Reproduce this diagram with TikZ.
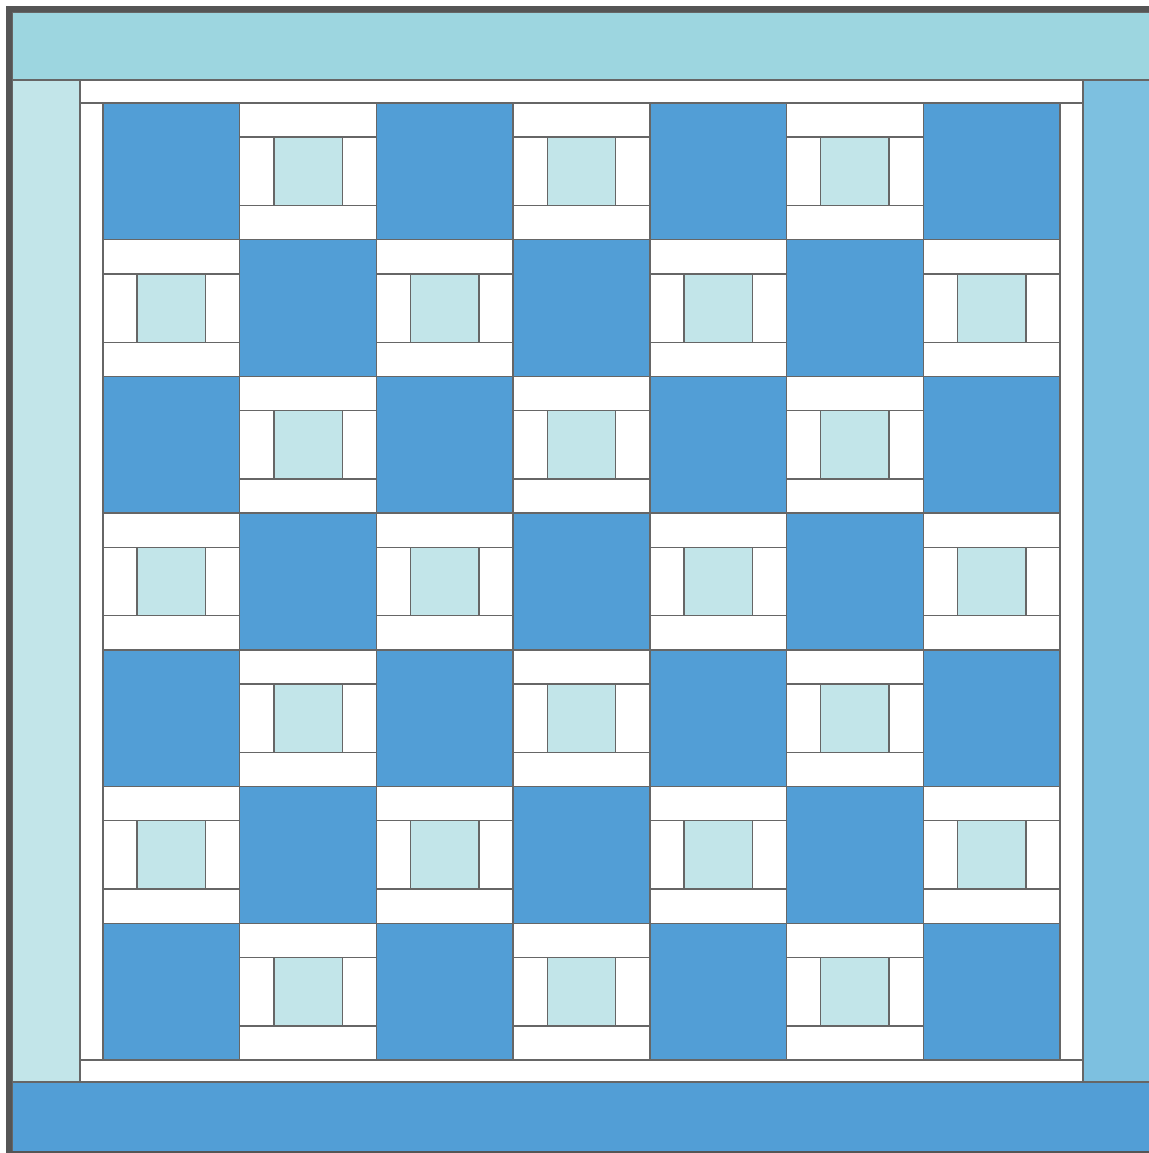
\documentclass[tikz,border=0pt]{standalone}
\definecolor{topband}{HTML}{9DD6E0}
\definecolor{leftband}{HTML}{C2E5E9}
\definecolor{rightband}{HTML}{7DC0E0}
\definecolor{darkblue}{HTML}{529ED6}
\definecolor{centerblue}{HTML}{C2E5E9}
\definecolor{linegray}{HTML}{666666}
\definecolor{framegray}{HTML}{555555}
\begin{document}
\begin{tikzpicture}[x=0.75pt,y=-0.75pt,
  edge/.style={draw=linegray, line width=1.1pt},
  piece/.style={edge, fill=white},
  darkpiece/.style={edge, fill=darkblue},
  centerpiece/.style={edge, fill=centerblue}]
\useasboundingbox (0,0) rectangle (1149,1153);
\clip (0,0) rectangle (1149,1153);
\fill[white] (0,0) rectangle (1149,1153);
% borders
\filldraw[edge, fill=topband] (12,12) rectangle (1170,80);
\filldraw[edge, fill=leftband] (12,80) rectangle (80,1082);
\filldraw[edge, fill=rightband] (1083,80) rectangle (1170,1082);
\filldraw[edge, fill=darkblue] (12,1082) rectangle (1170,1170);
% sashing strips
\filldraw[piece] (80,80) rectangle (1083,103);
\filldraw[piece] (80,1060) rectangle (1083,1082);
\filldraw[piece] (80,103) rectangle (103,1060);
\filldraw[piece] (1060,103) rectangle (1083,1060);
% blocks
\def\s{136.714}
\def\q{34.1785}
\foreach \r in {0,...,6}{
  \foreach \c in {0,...,6}{
    \pgfmathsetmacro\bx{103+\c*\s}
    \pgfmathsetmacro\by{103+\r*\s}
    \pgfmathtruncatemacro\pp{mod(\r+\c,2)}
    \ifnum\pp=0
      \filldraw[darkpiece] (\bx,\by) rectangle ++(\s,\s);
    \else
      \filldraw[piece] (\bx,\by) rectangle ++(\s,\q);
      \filldraw[piece] ({\bx},{\by+3*\q}) rectangle ++(\s,\q);
      \filldraw[piece] ({\bx},{\by+\q}) rectangle ++(\q,{2*\q});
      \filldraw[piece] ({\bx+3*\q},{\by+\q}) rectangle ++(\q,{2*\q});
      \filldraw[centerpiece] ({\bx+\q},{\by+\q}) rectangle ++({2*\q},{2*\q});
    \fi
  }
}
% outer frame
\draw[framegray, line width=4.5pt] (9,9) rectangle (1200,1154);
\end{tikzpicture}
\end{document}
